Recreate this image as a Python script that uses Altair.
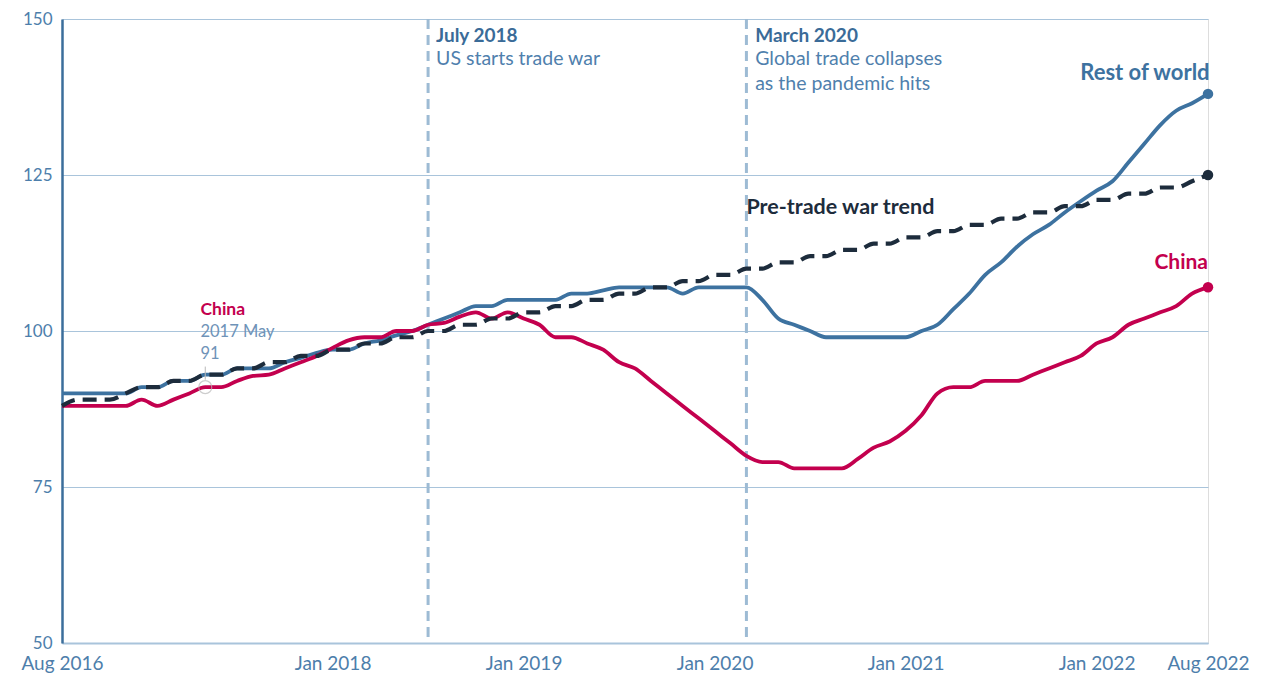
import altair as alt
import pandas as pd

# ---- data (monthly, Aug 2016 .. Aug 2022) ----
month_labels = pd.date_range("2016-08-01", "2022-08-01", freq="MS").strftime("%Y-%m").tolist()

rest_of_world = [90, 90, 90, 90, 90, 91, 91, 92, 92, 93, 93, 94, 94, 94, 95, 95.7, 96.5, 97, 97, 98,
                 98.5, 99.3, 100, 101, 102, 103, 104, 104, 105, 105, 105, 105, 106, 106, 106.5, 107, 107, 107, 107, 106,
                 107, 107, 107, 107, 105, 102, 101, 100, 99, 99, 99, 99, 99, 99, 100, 101, 103.5, 106, 109, 111,
                 113.5, 115.5, 117, 119, 120.8, 122.5, 124, 127, 130, 133, 135.3, 136.5, 138]

china = [88, 88, 88, 88, 88, 89, 88, 89, 90, 91, 91, 92, 92.8, 93, 94, 95, 96, 97.3, 98.5, 99,
         99, 100, 100, 101, 101.3, 102.3, 103, 102, 103, 102, 101, 99, 99, 98, 97, 95, 94, 92, 90, 88,
         86, 84, 82, 80, 79, 79, 78, 78, 78, 78, 79.5, 81.3, 82.3, 84, 86.5, 90, 91, 91, 92, 92,
         92, 93, 94, 95, 96, 98, 99, 101, 102, 103, 104, 106, 107]

trend = [88, 89, 89, 89, 90, 91, 91, 92, 92, 93, 93, 94, 94, 95, 95, 96, 96, 97, 97, 98,
         98, 99, 99, 100, 100, 101, 101, 102, 102, 103, 103, 104, 104, 105, 105, 106, 106, 107, 107, 108,
         108, 109, 109, 110, 110, 111, 111, 112, 112, 113, 113, 114, 114, 115, 115, 116, 116, 117, 117, 118,
         118, 119, 119, 120, 120, 121, 121, 122, 122, 123, 123, 124, 125]

tick_months = [0, 17, 29, 41, 53, 65, 72]
tick_labels = ["Aug 2016", "Jan 2018", "Jan 2019", "Jan 2020", "Jan 2021", "Jan 2022", "Aug 2022"]
y_ticks = [50, 75, 100, 125, 150]
event_months = [23, 43]  # July 2018, March 2020

BLUE = "#3d72a0"
RED = "#c3004e"
NAVY = "#1d2c3c"
GRID = "#a9c4db"
LABEL = "#4d7eab"

n = len(month_labels)
df = pd.DataFrame({
    "m": list(range(n)),
    "month": month_labels,
    "row": rest_of_world,
    "china": china,
    "trend": trend,
})

label_expr = " : ".join(
    [f"datum.value == {m} ? '{t}'" for m, t in zip(tick_months, tick_labels)] + ["''"]
)

x_enc = alt.X("m:Q",
              scale=alt.Scale(domain=[0, 72], nice=False, zero=False),
              axis=alt.Axis(values=tick_months, labelExpr=label_expr, title=None, grid=False,
                            ticks=False, domainColor=GRID, domainWidth=2,
                            labelColor=LABEL, labelFontSize=19, labelPadding=11,
                            labelFont="Lato", labelFlush=False, labelOverlap=False))
y_scale = alt.Scale(domain=[50, 150], nice=False, zero=False)

base = alt.Chart(df)

grid_axis = alt.Axis(values=y_ticks, title=None, grid=True, gridColor=GRID, gridWidth=1.2,
                     ticks=False, domainColor="#3b6e9b", domainWidth=2.5,
                     labelColor=LABEL, labelFontSize=17, labelPadding=10, labelFont="Lato")

blue_line = base.mark_line(color=BLUE, strokeWidth=3.8, strokeJoin="round", interpolate="monotone").encode(
    x=x_enc, y=alt.Y("row:Q", scale=y_scale, axis=grid_axis))
red_line = base.mark_line(color=RED, strokeWidth=3.8, strokeJoin="round", interpolate="monotone").encode(
    x="m:Q", y=alt.Y("china:Q", scale=y_scale))
trend_line = base.mark_line(color=NAVY, strokeWidth=4.2, strokeDash=[14, 8], interpolate="monotone").encode(
    x="m:Q", y=alt.Y("trend:Q", scale=y_scale))

events = pd.DataFrame({"m": event_months})
event_rules = alt.Chart(events).mark_rule(color="#9dbbd4", strokeWidth=3, strokeDash=[10, 6]).encode(
    x="m:Q", y=alt.value(0), y2=alt.value(624))

ends = pd.DataFrame({
    "m": [72, 72, 72],
    "v": [rest_of_world[-1], china[-1], trend[-1]],
    "s": ["row", "china", "trend"],
})
end_dots = alt.Chart(ends).mark_circle(size=110, opacity=1).encode(
    x="m:Q", y=alt.Y("v:Q", scale=y_scale),
    color=alt.Color("s:N", scale=alt.Scale(domain=["row", "china", "trend"], range=[BLUE, RED, NAVY]),
                    legend=None))

# hover-style marker on China, May 2017
hover = pd.DataFrame({"m": [9], "v": [china[9]], "v_top": [94.3], "v_bot": [92.2]})
hover_circle = alt.Chart(hover).mark_point(size=170, color="#b8b8b8", strokeWidth=1.2, filled=False).encode(
    x="m:Q", y=alt.Y("v:Q", scale=y_scale))
hover_tick = alt.Chart(hover).mark_rule(color="#b8b8b8", strokeWidth=1).encode(
    x="m:Q", y=alt.Y("v_top:Q", scale=y_scale), y2="v_bot:Q")

# text annotations (positions in data coordinates)
def texts(rows, **kw):
    d = pd.DataFrame(rows, columns=["m", "v", "t"])
    return alt.Chart(d).mark_text(font="Lato", baseline="alphabetic", **kw).encode(
        x="m:Q", y=alt.Y("v:Q", scale=y_scale), text="t:N")

t_bold_blue = texts([(23.5, 146.3, "July 2018"), (43.55, 146.3, "March 2020")],
                    color="#3a6b98", fontSize=19, fontWeight="bold", align="left")
t_reg_blue = texts([(23.5, 142.6, "US starts trade war"), (43.55, 142.6, "Global trade collapses"),
                    (43.55, 138.6, "as the pandemic hits")],
                   color="#4f80ad", fontSize=19.5, align="left")
t_row = texts([(72.1, 140.2, "Rest of world")], color=BLUE, fontSize=22, fontWeight="bold", align="right")
t_trend = texts([(43.0, 118.8, "Pre-trade war trend")], color=NAVY, fontSize=21.5, fontWeight="bold",
                align="left")
t_china = texts([(72.0, 110.0, "China")], color=RED, fontSize=21, fontWeight="bold", align="right")
t_china2 = texts([(8.7, 102.5, "China")], color=RED, fontSize=17.5, fontWeight="bold", align="left")
t_china3 = texts([(8.7, 99.0, "2017 May"), (8.7, 95.5, "91")], color="#6f93b8", fontSize=16.5,
                 align="left")

chart = alt.layer(
    blue_line, event_rules, red_line, trend_line, end_dots, hover_tick, hover_circle,
    t_bold_blue, t_reg_blue, t_row, t_trend, t_china, t_china2, t_china3,
).properties(
    width=1146, height=624,
    autosize=alt.AutoSizeParams(type="none"),
    padding={"left": 54, "top": 11, "right": 50, "bottom": 40},
).configure_view(stroke=None).configure(background="white")

chart.save("out.html", embed_options={"renderer": "svg", "actions": False})
